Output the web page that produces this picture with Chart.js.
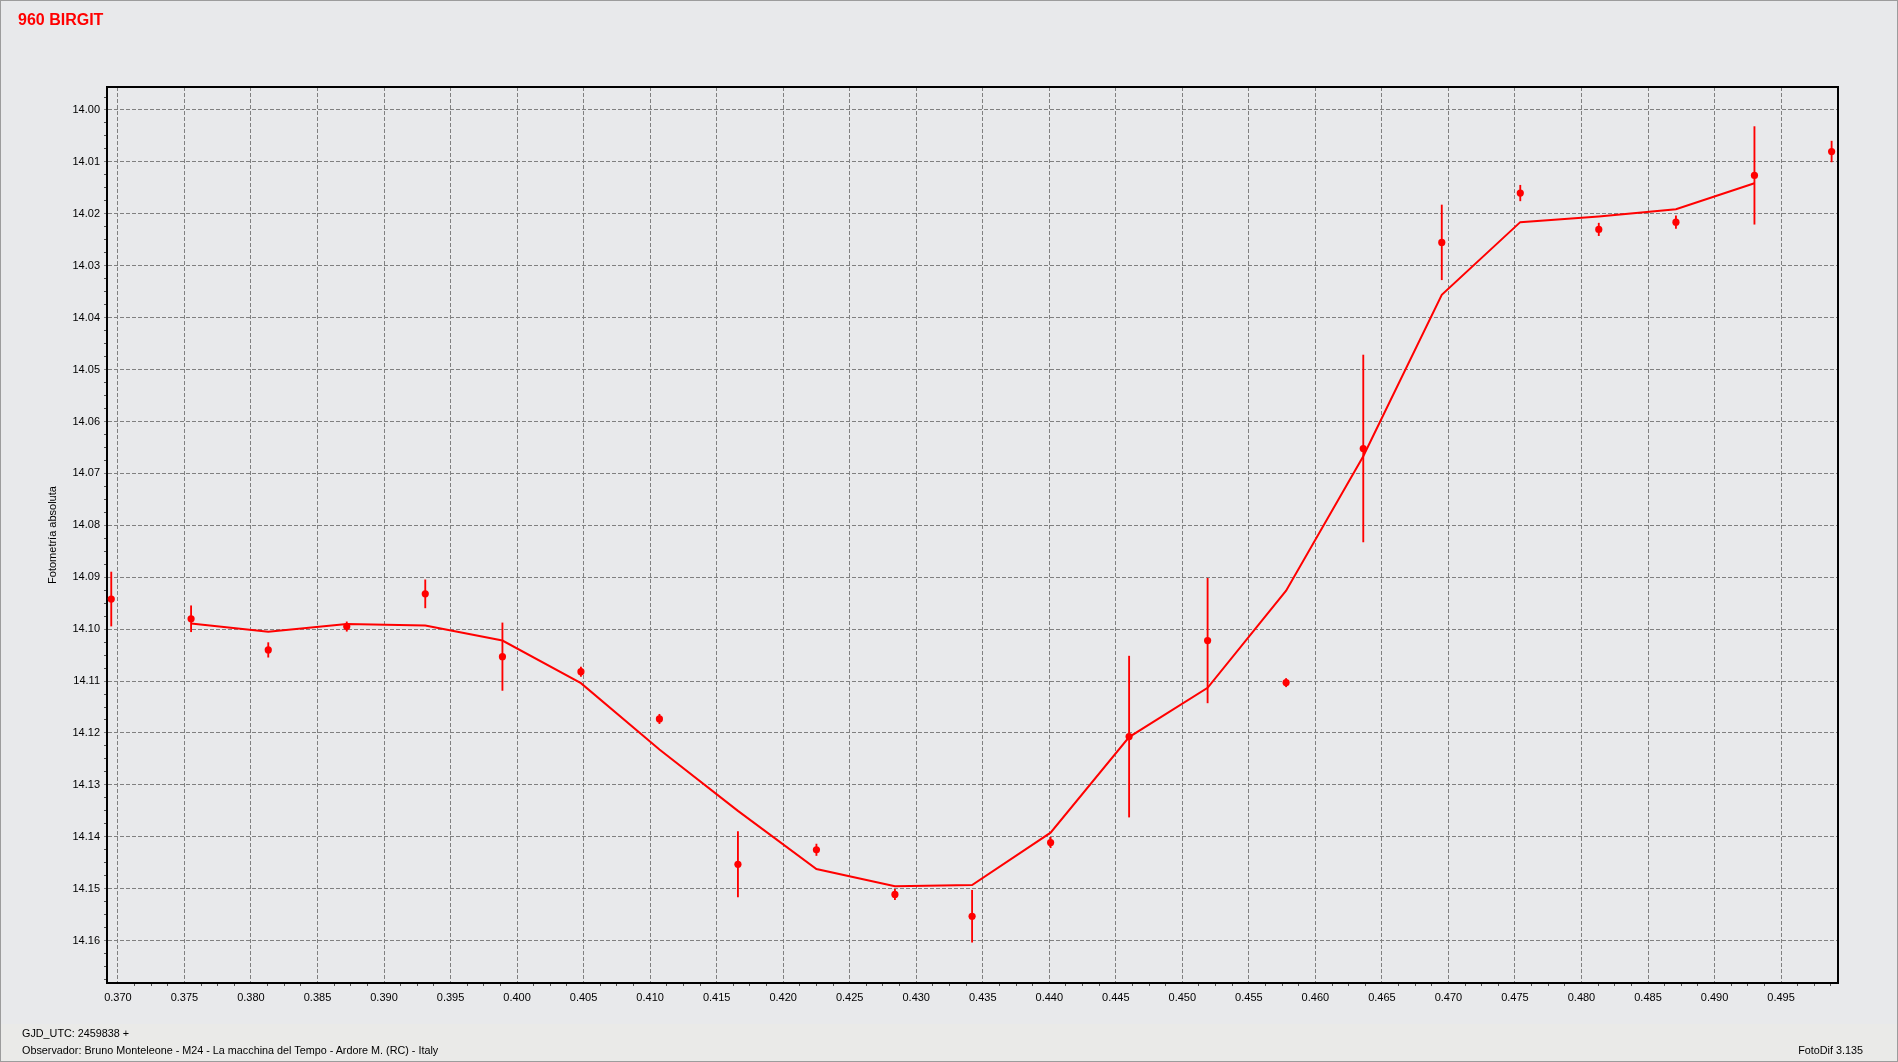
<!DOCTYPE html>
<html><head><meta charset="utf-8">
<script src="https://cdn.jsdelivr.net/npm/chart.js@4.4.0/dist/chart.umd.min.js"></script>
<style>
html,body{margin:0;padding:0;background:#e8e9eb;overflow:hidden}
#wrap{position:relative;width:1898px;height:1062px;background:#e8e9eb}
#foot{position:absolute;left:0;top:1024px;width:1898px;height:38px;background:#eaeae8}
canvas{position:absolute;left:0;top:0}
#frame{position:absolute;left:0;top:0;width:1898px;height:1062px;box-sizing:border-box;border:1px solid #9c9c9c;pointer-events:none}
.t{position:absolute;font-family:"Liberation Sans",Arial,sans-serif;white-space:nowrap;color:#000}
</style></head><body>
<div id="wrap">
<div id="foot"></div>
<canvas id="c" width="1898" height="1062"></canvas>
<div class="t" style="left:18px;top:12px;font-size:16px;line-height:16px;font-weight:bold;color:#ff0000">960 BIRGIT</div>
<div class="t" style="left:22px;top:1027px;font-size:10.8px;line-height:13px">GJD_UTC: 2459838 +</div>
<div class="t" style="left:22px;top:1044px;font-size:10.8px;line-height:13px">Observador: Bruno Monteleone - M24 - La macchina del Tempo - Ardore M. (RC) - Italy</div>
<div class="t" style="right:35px;top:1044px;font-size:10.8px;line-height:13px">FotoDif 3.135</div>
<div id="frame"></div>
</div>
<script>
// Observations (phase in GJD fraction, magnitude, error)
const phase = [0.3695, 0.3755, 0.3813, 0.3872, 0.3931, 0.3989, 0.4048, 0.4107, 0.4166, 0.4225, 0.4284, 0.4342,
               0.4401, 0.4460, 0.4519, 0.4578, 0.4636, 0.4695, 0.4754, 0.4813, 0.4871, 0.4930, 0.4988];
const mag = [14.0942, 14.0980, 14.1040, 14.0995, 14.0932, 14.1053, 14.1082, 14.1173, 14.1453, 14.1425, 14.1511, 14.1553,
             14.1411, 14.1207, 14.1022, 14.1103, 14.0652, 14.0255, 14.0160, 14.0230, 14.0216, 14.0126, 14.0080];
const magErr = [0.0052, 0.0025, 0.0014, 0.0009, 0.0027, 0.0065, 0.0009, 0.0009, 0.0063, 0.0011, 0.0010, 0.0050,
                0.0010, 0.0155, 0.0120, 0.0008, 0.0180, 0.0072, 0.0015, 0.0012, 0.0012, 0.0094, 0.0020];
// Fitted curve
const fitPhase = [0.3755, 0.3813, 0.3872, 0.3931, 0.3989, 0.4048, 0.4107, 0.4166, 0.4225, 0.4284, 0.4342,
                  0.4401, 0.4460, 0.4519, 0.4578, 0.4636, 0.4695, 0.4754, 0.4813, 0.4871, 0.4930];
const fitMag = [14.0989, 14.1005, 14.0990, 14.0993, 14.1022, 14.1104, 14.1232, 14.1350, 14.1462, 14.1495, 14.1493,
                14.1392, 14.1208, 14.1113, 14.0926, 14.0667, 14.0356, 14.0216, 14.0205, 14.0191, 14.0141];
// Axis ranges and tick steps
const xRange = [0.36918, 0.49928];
const yRange = [13.99557, 14.16816];
const xMinorStep = 0.00125, xMajorStep = 0.005;
const yMinorStep = 0.0025, yMajorStep = 0.01;

const RED = '#ff0000';
const GRID = '#808080';
const FONT = {family: '"Liberation Sans", Arial, sans-serif', size: 11};
const isMajor = (v, step) => Math.abs(v / step - Math.round(v / step)) < 1e-6;

const framePlugin = {
  id: 'frame',
  beforeDatasetsDraw(chart) {
    const a = chart.chartArea, ctx = chart.ctx;
    ctx.save();
    ctx.strokeStyle = '#000';
    ctx.lineWidth = 2;
    ctx.strokeRect(a.left, a.top, a.right - a.left, a.bottom - a.top);
    ctx.restore();
  }
};

new Chart(document.getElementById('c'), {
  type: 'line',
  data: {
    datasets: [
      {
        type: 'line', label: 'obs', order: 0,
        data: phase.map((x, i) => ({x, y: mag[i]})),
        showLine: false, pointStyle: 'circle', pointRadius: 3.6, pointBorderWidth: 0,
        pointBackgroundColor: RED, borderColor: RED
      },
      {
        type: 'line', label: 'fit', order: 1,
        data: fitPhase.map((x, i) => ({x, y: fitMag[i]})),
        borderColor: RED, borderWidth: 2, pointRadius: 0, tension: 0, fill: false
      },
      {
        type: 'bar', label: 'err', order: 2,
        data: phase.map((x, i) => ({x, y: [mag[i] - magErr[i], mag[i] + magErr[i]]})),
        backgroundColor: RED, borderWidth: 0, barThickness: 1.2, grouped: false
      }
    ]
  },
  options: {
    responsive: false, animation: false, events: [],
    layout: {padding: {left: 0, right: 60, top: 87, bottom: 0}},
    plugins: {legend: {display: false}, tooltip: {enabled: false}, title: {display: false}},
    scales: {
      x: {
        type: 'linear', min: xRange[0], max: xRange[1], offset: false,
        afterFit(s) { s.height = 79; },
        ticks: {
          stepSize: xMinorStep, includeBounds: false, autoSkip: false, maxRotation: 0, minRotation: 0,
          color: '#000', font: FONT, padding: 5,
          callback: v => isMajor(v, xMajorStep) ? v.toFixed(3) : ''
        },
        grid: {
          offset: false,
          color: c => (c.tick && isMajor(c.tick.value, xMajorStep)) ? GRID : 'rgba(0,0,0,0)',
          lineWidth: 1, tickLength: 3, drawTicks: true,
          tickColor: c => (c.tick && isMajor(c.tick.value, xMajorStep)) ? 'rgba(0,0,0,0)' : '#505050'
        },
        border: {display: true, color: '#000', width: 2, dash: [4, 2]}
      },
      y: {
        type: 'linear', reverse: true, min: yRange[0], max: yRange[1],
        afterFit(s) { s.width = 107; },
        ticks: {
          stepSize: yMinorStep, includeBounds: false, autoSkip: false,
          color: '#000', font: FONT, padding: 4,
          callback: v => isMajor(v, yMajorStep) ? v.toFixed(2) : ''
        },
        grid: {
          offset: false,
          color: c => (c.tick && isMajor(c.tick.value, yMajorStep)) ? GRID : 'rgba(0,0,0,0)',
          lineWidth: 1, tickLength: 3, drawTicks: true,
          tickColor: c => (c.tick && isMajor(c.tick.value, yMajorStep)) ? GRID : '#505050'
        },
        border: {display: true, color: '#000', width: 2, dash: [4, 2]},
        title: {display: true, text: 'Fotometría absoluta', color: '#000', font: FONT, padding: {top: 46, bottom: 0}}
      }
    }
  },
  plugins: [framePlugin]
});
</script>
</body></html>
